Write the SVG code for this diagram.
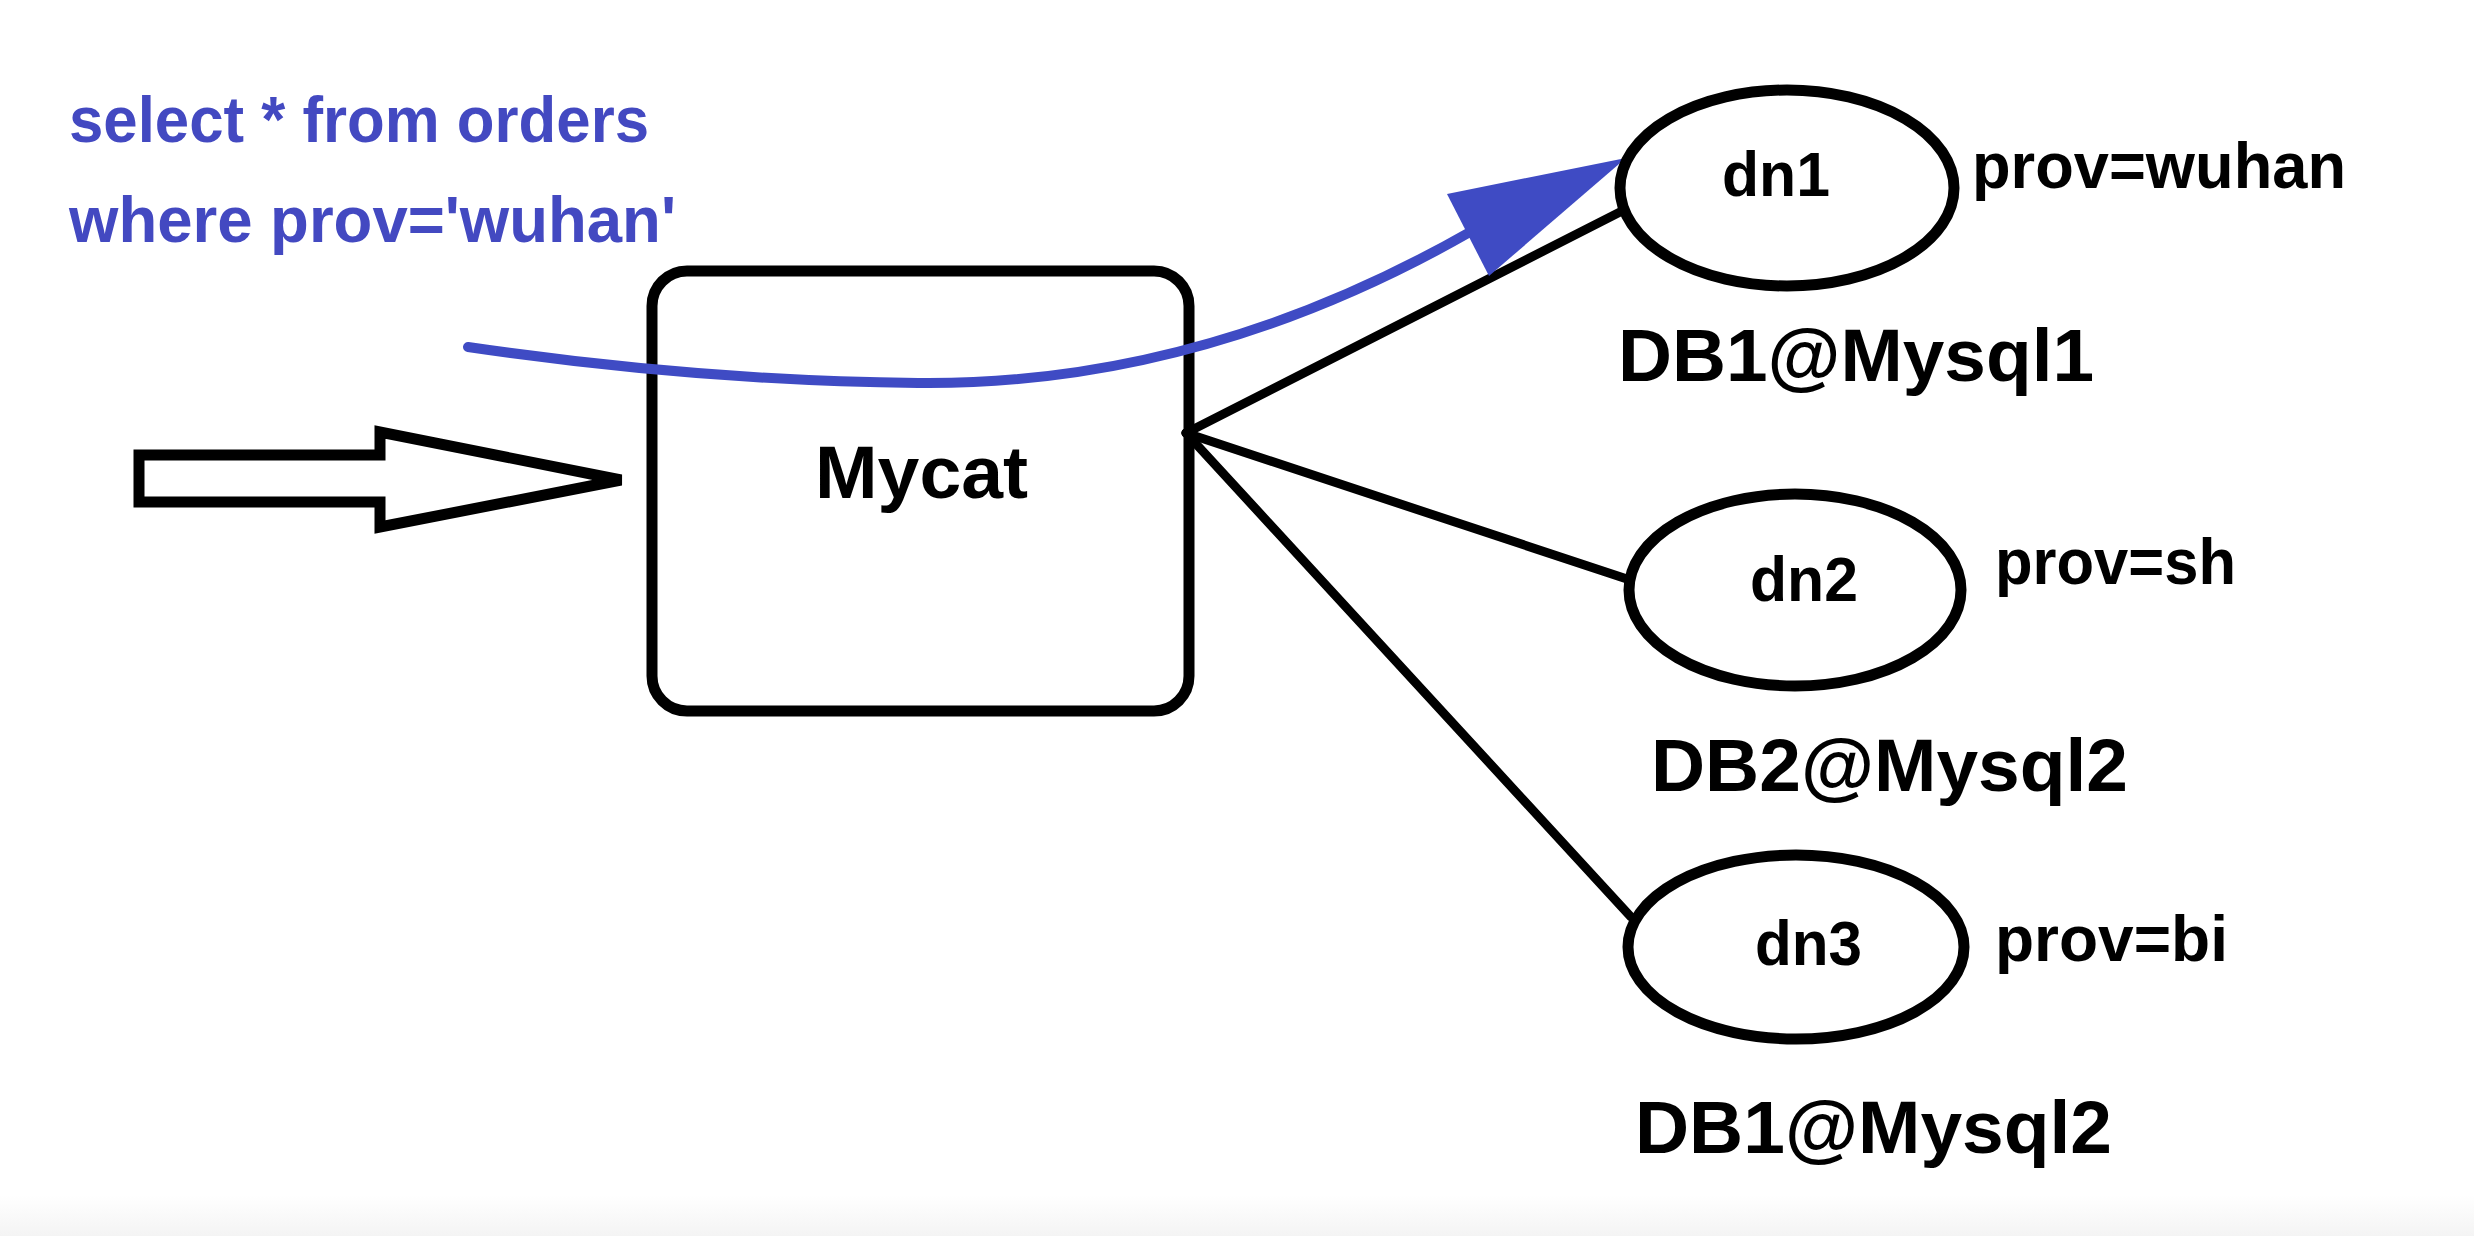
<svg xmlns="http://www.w3.org/2000/svg" width="2474" height="1236" viewBox="0 0 2474 1236">
<defs>
<style>
.t{font-family:"Liberation Sans",Arial,sans-serif;font-weight:bold;fill:#000}
.q{font-family:"Liberation Sans",Arial,sans-serif;font-weight:bold;fill:#4349c1;font-size:64px}
.big{font-size:75px}
.dn{font-size:63px}
.pv{font-size:64px}
.node{fill:#fff;stroke:#000;stroke-width:11}
.conn{fill:none;stroke:#000;stroke-width:9;stroke-linecap:round}
</style>
<linearGradient id="bot" x1="0" y1="0" x2="0" y2="1">
<stop offset="0" stop-color="#ffffff"/>
<stop offset="1" stop-color="#f4f4f4"/>
</linearGradient>
</defs>
<rect width="2474" height="1236" fill="#fff"/>
<rect x="0" y="1195" width="2474" height="41" fill="url(#bot)"/>

<g id="query">
<text class="q" x="69" y="142" textLength="580" lengthAdjust="spacingAndGlyphs">select * from orders</text>
<text class="q" x="69" y="242" textLength="607" lengthAdjust="spacingAndGlyphs">where prov='wuhan'</text>
</g>

<g id="input-arrow">
<polygon points="139,455 380,455 380,432 621,480 380,527 380,502 139,502" fill="#fff" stroke="#000" stroke-width="11" stroke-linejoin="miter"/>
</g>

<g id="mycat">
<rect class="node" x="652" y="271" width="537" height="440" rx="35" ry="35"/>
<text class="t big" x="815" y="498" textLength="213" lengthAdjust="spacingAndGlyphs">Mycat</text>
</g>

<g id="connectors">
<line class="conn" x1="1186" y1="433" x2="1622" y2="211"/>
<line class="conn" x1="1186" y1="433" x2="1630" y2="580"/>
<line class="conn" x1="1186" y1="433" x2="1631" y2="917" stroke-width="8"/>
<path d="M468,347 Q700,381 918,383 Q1200,386 1470,232" fill="none" stroke="#3f4bc4" stroke-width="10" stroke-linecap="round"/>
<polygon points="1447,194 1489,276 1626,158" fill="#3f4bc4"/>
</g>

<g id="dn1">
<ellipse class="node" cx="1787" cy="188" rx="167" ry="98"/>
<text class="t dn" x="1722" y="196" textLength="108" lengthAdjust="spacingAndGlyphs">dn1</text>
<text class="t pv" x="1972" y="188" textLength="374" lengthAdjust="spacingAndGlyphs">prov=wuhan</text>
<text class="t big" x="1618" y="381" textLength="476" lengthAdjust="spacingAndGlyphs">DB1@Mysql1</text>
</g>

<g id="dn2">
<ellipse class="node" cx="1795" cy="590" rx="166" ry="96"/>
<text class="t dn" x="1750" y="601" textLength="108" lengthAdjust="spacingAndGlyphs">dn2</text>
<text class="t pv" x="1995" y="584" textLength="241" lengthAdjust="spacingAndGlyphs">prov=sh</text>
<text class="t big" x="1651" y="791" textLength="477" lengthAdjust="spacingAndGlyphs">DB2@Mysql2</text>
</g>

<g id="dn3">
<ellipse class="node" cx="1796" cy="947" rx="168" ry="92"/>
<text class="t dn" x="1755" y="965" textLength="107" lengthAdjust="spacingAndGlyphs">dn3</text>
<text class="t pv" x="1995" y="961" textLength="233" lengthAdjust="spacingAndGlyphs">prov=bi</text>
<text class="t big" x="1635" y="1153" textLength="477" lengthAdjust="spacingAndGlyphs">DB1@Mysql2</text>
</g>
</svg>
